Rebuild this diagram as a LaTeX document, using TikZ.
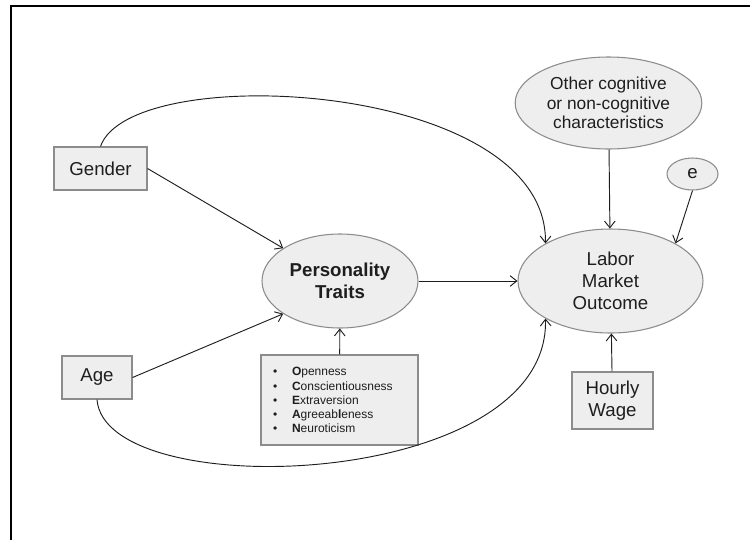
\documentclass[tikz,border=0pt]{standalone}
\usepackage{fontspec}
\setmainfont{Liberation Sans}
\usetikzlibrary{shapes.geometric, arrows.meta}

\definecolor{cellfill}{HTML}{EEEEEE}
\definecolor{celledge}{HTML}{8C8C8C}
\definecolor{inkline}{HTML}{1E1E1E}

\tikzset{
    varbox/.style = {rectangle, draw=celledge, fill=cellfill, line width=0.8pt,
        text=inkline, font=\fontsize{14}{16.5}\selectfont, align=center, inner sep=0pt},
    varoval/.style = {ellipse, draw=celledge, fill=cellfill, line width=0.8pt,
        text=inkline, font=\fontsize{14}{16.5}\selectfont, align=center, inner sep=0pt},
    link/.style = {draw=inkline, line width=0.7pt, -{Straight Barb[length=5pt,width=8pt]}},
}

\begin{document}
\begin{tikzpicture}[x=0.75pt, y=-0.75pt]
\useasboundingbox (0,0) rectangle (750,540);
\draw[line width=1pt] (11,540) -- (11,6) -- (750,6);

% observed variables on the left
\node[varbox, minimum width=69.75pt, minimum height=32.25pt] (gender) at (100.5,168.5) {Gender};
\node[varbox, minimum width=52.5pt, minimum height=32.25pt] (age) at (97,377.5) {Age};

% latent traits and the big five
\node[varoval, minimum width=117pt, minimum height=70.5pt,
    font=\fontsize{14}{16.5}\selectfont\bfseries] (traits) at (340,281) {Personality\\Traits};
\node[varbox, minimum width=117.75pt, minimum height=67.5pt, text width=99.75pt,
    inner xsep=9pt, align=left, font=\fontsize{9}{10.6}\selectfont] (big5) at (339.5,400) {%
    \makebox[14.25pt][l]{\textbullet}\textbf{O}penness\\
    \makebox[14.25pt][l]{\textbullet}\textbf{C}onscientiousness\\
    \makebox[14.25pt][l]{\textbullet}\textbf{E}xtraversion\\
    \makebox[14.25pt][l]{\textbullet}\textbf{A}greeab\textbf{l}eness\\
    \makebox[14.25pt][l]{\textbullet}\textbf{N}euroticism};

% outcome side
\node[varoval, minimum width=138.75pt, minimum height=78pt] (labor) at (610.5,281) {Labor\\Market\\Outcome};
\node[varoval, minimum width=140pt, minimum height=69pt,
    font=\fontsize{13}{14.5}\selectfont] (other) at (608.5,103)
    {Other cognitive\\or non-cognitive\\characteristics};
\node[varoval, minimum width=38.25pt, minimum height=24pt] (err) at (692.5,174) {e};
\node[varbox, minimum width=60.75pt, minimum height=42.75pt] (wage) at (612.5,400.5) {Hourly\\Wage};

% paths
\draw[link] (gender.east) -- (traits.150);
\draw[link] (age.east) -- (traits.210);
\draw[link] (big5) -- (traits);
\draw[link] (traits) -- (labor);
\draw[link] (other) -- (labor);
\draw[link] (err.south) -- (labor.30);
\draw[link] (wage) -- (labor);
\draw[link] (gender.north) .. controls +(30,-87) and +(2,-163) .. (labor.150);
\draw[link] (age.south) .. controls +(8,106) and +(4.5,172) .. (labor.210);
\end{tikzpicture}
\end{document}
